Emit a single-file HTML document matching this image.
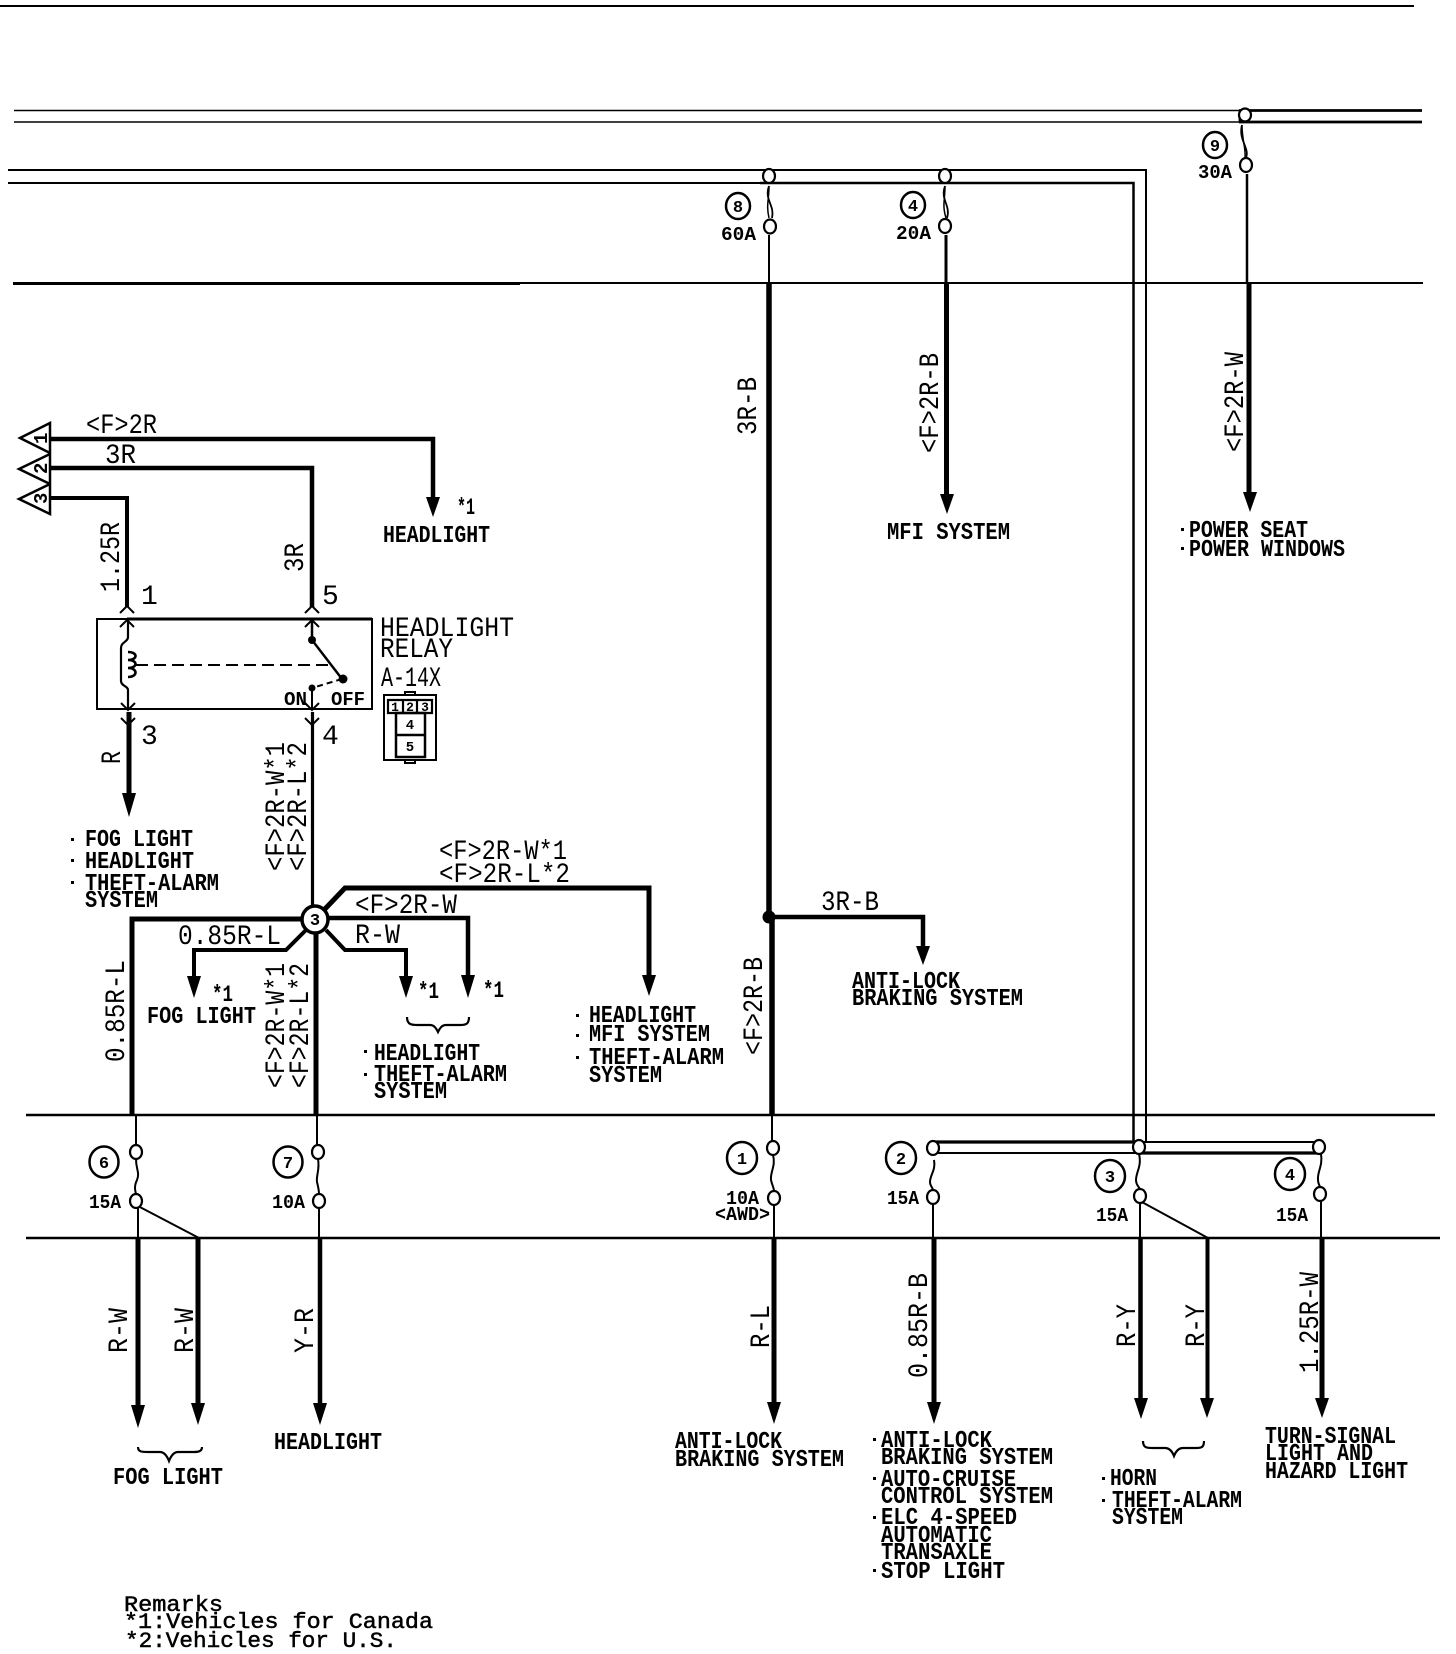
<!DOCTYPE html>
<html><head><meta charset="utf-8"><style>
html,body{margin:0;padding:0;background:#fff}
svg{display:block}
text{font-family:"Liberation Mono",monospace;fill:#000}
.s{font-size:24px;font-weight:bold}
.m{font-size:28px}
.f{font-size:19px;font-weight:bold}
.a{font-size:23px;font-weight:bold}
.r{font-size:22px;stroke:#000;stroke-width:.5px}
.n{font-size:17px;font-weight:bold;text-anchor:middle}
.l{fill:none;stroke:#000;stroke-linejoin:miter}
.o{fill:#fff;stroke:#000;stroke-width:2.2}
</style></head><body>
<svg width="1456" height="1654" viewBox="0 0 1456 1654" xmlns="http://www.w3.org/2000/svg">
<rect width="1456" height="1654" fill="#fff"/>
<!-- rules and bus bars -->
<g class="l">
<path d="M0 6H1414" stroke-width="2"/>
<path d="M14 110.500H1239M14 122H1239" stroke-width="1.500"/>
<path d="M1239 110.500H1422M1239 122H1422M1240 110V122" stroke-width="2.800"/>
<path d="M8 170H1146V1142" stroke-width="2"/>
<path d="M8 183H760" stroke-width="2"/>
<path d="M760 183H1133.500V1142" stroke-width="2.500"/>
<path d="M13 283H1423" stroke-width="2"/>
<path d="M13 283.500H520" stroke-width="3"/>
<path d="M26 1115H1435" stroke-width="2.500"/>
<path d="M26 1238H1440" stroke-width="2.500"/>
<path d="M933 1142H1137" stroke-width="3.200"/>
<path d="M1137 1142H1319" stroke-width="2"/>
<path d="M933 1153H1137" stroke-width="2"/>
<path d="M1137 1153H1319" stroke-width="3.200"/>
</g>
<!-- top fuses -->
<g class="l">
<path d="M769 186C764 200 775 205 772 218" stroke-width="1.800"/><path d="M769 186C769 200 766 205 769 218" stroke-width="1.500"/>
<path d="M769 235V283" stroke-width="2"/>
<path d="M769 283V918" stroke-width="5.500"/>
<path d="M772 918V1115" stroke-width="5.500"/>
<path d="M945 186C940 200 951 205 947 218" stroke-width="1.800"/><path d="M945 186C945 200 942 205 946 218" stroke-width="1.500"/>
<path d="M946 235V283" stroke-width="3"/>
<path d="M946.500 283V495" stroke-width="5"/>
<path d="M1242 125C1238 140 1250 148 1246 158" stroke-width="1.800"/><path d="M1242 125C1242 140 1246 148 1245 158" stroke-width="1.500"/>
<path d="M1247 174V283" stroke-width="2.500"/>
<path d="M1249 283V495" stroke-width="5"/>
</g>
<g class="o"><ellipse cx="769" cy="176" rx="6" ry="7"/><ellipse cx="770" cy="226.500" rx="6" ry="7"/><ellipse cx="945" cy="176" rx="6" ry="7"/><ellipse cx="945" cy="226" rx="6" ry="7"/><ellipse cx="1245" cy="115" rx="6" ry="6.500"/><ellipse cx="1246" cy="165" rx="6" ry="7"/></g>
<!-- arrowheads -->
<g fill="#000">
<path d="M426 497H440L433 517Z"/>
<path d="M122 793H136L129 817Z"/>
<path d="M187 976H201L194 998Z"/>
<path d="M399 976H413L406 998Z"/>
<path d="M461 975H475L468 998Z"/>
<path d="M642 975H656L649 996Z"/>
<path d="M940 494H954L947 514Z"/>
<path d="M1243 492H1257L1250 512Z"/>
<path d="M916 946H930L923 965Z"/>
<path d="M131 1405H145L138 1428Z"/>
<path d="M191 1403H205L198 1425Z"/>
<path d="M313 1403H327L320 1425Z"/>
<path d="M767 1402H781L774 1424Z"/>
<path d="M927 1402H941L934 1424Z"/>
<path d="M1134 1398H1148L1141 1419Z"/>
<path d="M1200 1398H1214L1207 1418Z"/>
<path d="M1315 1398H1329L1322 1418Z"/>
<circle cx="769" cy="917" r="6.500"/>
</g>
<!-- left triangles and wires -->
<g class="l">
<path d="M50 423L20 438L50 453ZM50 454L19 469L50 484ZM50 484L19 499L50 514Z" stroke-width="2.500"/>
<path d="M50 439H433V498" stroke-width="4.500"/>
<path d="M50 468H312V607" stroke-width="4.500"/>
<path d="M50 498H127V607" stroke-width="4"/>
<path d="M97 619H372V709H97Z" stroke-width="2"/>
<path d="M127 619H372" stroke-width="3"/>
<path d="M120 613L127 606L134 613M120 627L127 620L134 627M305 613L312 606L319 613M305 627L312 620L319 627" stroke-width="2"/>
<path d="M121 703L128 710L135 703M121 718L128 725L135 718M305 703L312 710L319 703M305 718L312 725L319 718" stroke-width="2"/>
<path d="M128 620V637C128 642 121 642 121 648V681C121 686 128 686 128 690V709" stroke-width="2.200"/>
<path d="M128 652C138 652 138 660 128 660C138 660 138 668 128 668C138 668 138 677 128 677" stroke-width="2.600"/>
<path d="M136 665H334" stroke-width="2" stroke-dasharray="12 6"/>
<path d="M312 620V640L342 679" stroke-width="2.500"/>
<path d="M342 679L312 688" stroke-width="2" stroke-dasharray="6 4"/>
<path d="M312 688V709" stroke-width="2"/>
<path d="M129 712V795" stroke-width="5"/>
<path d="M312.500 712V908" stroke-width="3.200"/>
<path d="M303 919H132V1115" stroke-width="5"/>
<path d="M324 910L345 888H649V978" stroke-width="5"/>
<path d="M328 918H468V977" stroke-width="4.500"/>
<path d="M326 930L345 950H406V977" stroke-width="4"/>
<path d="M308 928L286 950H194V978" stroke-width="4"/>
<path d="M316 932V1115" stroke-width="5"/>
<path d="M769 917H923V948" stroke-width="4.500"/>
</g>
<g fill="#000"><circle cx="312" cy="640" r="4"/><circle cx="343" cy="679" r="4.500"/><circle cx="312" cy="688" r="3.500"/></g>
<ellipse cx="315" cy="919.500" rx="13" ry="13.500" fill="#fff" stroke="#000" stroke-width="3.500"/>
<!-- lower fuses -->
<g class="l" stroke-width="2">
<path d="M136 1115V1145"/>
<path d="M136 1159C136 1170 140 1172 137 1180C134 1186 135 1190 136 1194"/>
<path d="M138 1208V1238M136 1205L199 1238"/>
<path d="M317 1115V1145"/>
<path d="M318 1159C320 1170 316 1175 317 1182C318 1186 319 1190 319 1194"/>
<path d="M319 1208V1238"/>
<path d="M772 1115V1141"/>
<path d="M773 1155C776 1166 770 1172 771 1180C772 1185 774 1188 774 1191"/>
<path d="M774 1205V1238"/>
<path d="M934 1160C936 1170 930 1175 930 1182C930 1186 933 1188 933 1190"/>
<path d="M933 1204V1238"/>
<path d="M1139 1154C1142 1166 1136 1172 1136 1180C1136 1185 1139 1187 1140 1189"/>
<path d="M1140 1203V1238M1140 1201L1208 1238"/>
<path d="M1321 1154C1323 1166 1317 1172 1318 1180C1318 1184 1320 1186 1320 1187"/>
<path d="M1321 1201V1238"/>
</g>
<g class="l">
<path d="M138 1238V1407M198 1238V1405" stroke-width="5"/>
<path d="M320 1238V1405" stroke-width="4.500"/>
<path d="M774 1238V1404M934 1238V1404" stroke-width="5"/>
<path d="M1140.500 1238V1400" stroke-width="4.500"/>
<path d="M1207.500 1238V1400" stroke-width="4"/>
<path d="M1322 1238V1400" stroke-width="5"/>
</g>
<g class="o"><ellipse cx="136" cy="1152" rx="6" ry="7"/><ellipse cx="136" cy="1201" rx="6" ry="7"/><ellipse cx="318" cy="1152" rx="6" ry="7"/><ellipse cx="319" cy="1201" rx="6" ry="7"/><ellipse cx="773" cy="1148" rx="6" ry="7"/><ellipse cx="774" cy="1198" rx="6" ry="7"/><ellipse cx="933" cy="1148" rx="6" ry="7"/><ellipse cx="933" cy="1197" rx="6" ry="7"/><ellipse cx="1139" cy="1147" rx="6" ry="7"/><ellipse cx="1140" cy="1196" rx="6" ry="7"/><ellipse cx="1319" cy="1147" rx="6" ry="7"/><ellipse cx="1320" cy="1194" rx="6" ry="7"/></g>
<!-- circled numbers -->
<g class="o" style="stroke-width:2.500;fill:none">
<ellipse cx="738" cy="206" rx="12" ry="13"/><ellipse cx="913" cy="205" rx="12" ry="13"/><ellipse cx="1215" cy="145" rx="12" ry="13"/>
<ellipse cx="104" cy="1162" rx="14.500" ry="15.500"/><ellipse cx="288" cy="1162" rx="14.500" ry="15.500"/>
<ellipse cx="742" cy="1158" rx="15" ry="16"/><ellipse cx="901" cy="1158" rx="15" ry="16"/><ellipse cx="1110" cy="1176" rx="15" ry="16"/><ellipse cx="1290" cy="1174" rx="15" ry="16"/>
</g>
<g>
<text class="n" x="738" y="212">8</text><text class="n" x="913" y="211">4</text><text class="n" x="1215" y="151">9</text>
<text class="n" x="104" y="1168">6</text><text class="n" x="288" y="1168">7</text>
<text class="n" x="742" y="1164">1</text><text class="n" x="901" y="1164">2</text><text class="n" x="1110" y="1182">3</text><text class="n" x="1290" y="1180">4</text>
<text class="n" x="315" y="925">3</text>
</g>
<!-- connector icon -->
<g class="l" stroke-width="2">
<path d="M384 695H436V760H384Z"/>
<path d="M388 700H432V713H388ZM403 700V713M417 700V713" stroke-width="2.200"/>
<path d="M396 713H425V757H396ZM396 735H425" stroke-width="2.500"/>
<path d="M405 695V692H415V695M405 760V763H415V760"/>
</g>
<text class="n" style="font-size:13px" x="395" y="711">1</text><text class="n" style="font-size:13px" x="410" y="711">2</text><text class="n" style="font-size:13px" x="425" y="711">3</text>
<text class="n" style="font-size:14px" x="410" y="729">4</text><text class="n" style="font-size:14px" x="410" y="751">5</text>
<!-- braces -->
<g class="l" stroke-width="2.200">
<path d="M407 1017C407 1025 412 1025 418 1025H430C434 1025 436 1028 438 1032C440 1028 442 1025 446 1025H460C466 1025 469 1024 469 1017"/>
<path d="M138 1447C138 1452 142 1452 148 1452H160C164 1452 167 1456 169 1461C171 1456 174 1452 178 1452H194C199 1452 202 1451 202 1447"/>
<path d="M1143 1441C1143 1448 1147 1448 1153 1448H1165C1169 1448 1172 1451 1174 1456C1176 1451 1179 1448 1183 1448H1196C1202 1448 1204 1447 1204 1441"/>
</g>
<!-- large wire labels -->
<text class="m" x="86" y="433" textLength="71" lengthAdjust="spacingAndGlyphs">&lt;F&gt;2R</text>
<text class="m" x="105" y="463" textLength="31" lengthAdjust="spacingAndGlyphs">3R</text>
<text class="m" x="141" y="604">1</text><text class="m" x="322" y="604">5</text><text class="m" x="141" y="744">3</text><text class="m" x="322" y="744">4</text>
<text class="m" x="380" y="636" textLength="134" lengthAdjust="spacingAndGlyphs">HEADLIGHT</text>
<text class="m" x="380" y="657" textLength="73" lengthAdjust="spacingAndGlyphs">RELAY</text>
<text class="m" x="381" y="686" textLength="60" lengthAdjust="spacingAndGlyphs">A-14X</text>
<text class="m" x="439" y="859" textLength="128" lengthAdjust="spacingAndGlyphs">&lt;F&gt;2R-W*1</text>
<text class="m" x="439" y="882" textLength="131" lengthAdjust="spacingAndGlyphs">&lt;F&gt;2R-L*2</text>
<text class="m" x="355" y="913" textLength="102" lengthAdjust="spacingAndGlyphs">&lt;F&gt;2R-W</text>
<text class="m" x="355" y="943" textLength="45" lengthAdjust="spacingAndGlyphs">R-W</text>
<text class="m" x="178" y="944" textLength="103" lengthAdjust="spacingAndGlyphs">0.85R-L</text>
<text class="m" x="821" y="910" textLength="58" lengthAdjust="spacingAndGlyphs">3R-B</text>
<g class="m">
<text class="m" transform="translate(119,592) rotate(-90)" textLength="70" lengthAdjust="spacingAndGlyphs">1.25R</text>
<text class="m" transform="translate(303,572) rotate(-90)" textLength="29" lengthAdjust="spacingAndGlyphs">3R</text>
<text class="m" transform="translate(120,764) rotate(-90)" textLength="13" lengthAdjust="spacingAndGlyphs">R</text>
<text class="m" transform="translate(284,871) rotate(-90)" textLength="129" lengthAdjust="spacingAndGlyphs">&lt;F&gt;2R-W*1</text>
<text class="m" transform="translate(306,871) rotate(-90)" textLength="129" lengthAdjust="spacingAndGlyphs">&lt;F&gt;2R-L*2</text>
<text class="m" transform="translate(284,1088) rotate(-90)" textLength="125" lengthAdjust="spacingAndGlyphs">&lt;F&gt;2R-W*1</text>
<text class="m" transform="translate(308,1088) rotate(-90)" textLength="125" lengthAdjust="spacingAndGlyphs">&lt;F&gt;2R-L*2</text>
<text class="m" transform="translate(124,1062) rotate(-90)" textLength="102" lengthAdjust="spacingAndGlyphs">0.85R-L</text>
<text class="m" transform="translate(756,435) rotate(-90)" textLength="58" lengthAdjust="spacingAndGlyphs">3R-B</text>
<text class="m" transform="translate(938,453) rotate(-90)" textLength="100" lengthAdjust="spacingAndGlyphs">&lt;F&gt;2R-B</text>
<text class="m" transform="translate(1243,452) rotate(-90)" textLength="100" lengthAdjust="spacingAndGlyphs">&lt;F&gt;2R-W</text>
<text class="m" transform="translate(762,1055) rotate(-90)" textLength="98" lengthAdjust="spacingAndGlyphs">&lt;F&gt;2R-B</text>
<text class="m" transform="translate(127,1353) rotate(-90)" textLength="45" lengthAdjust="spacingAndGlyphs">R-W</text>
<text class="m" transform="translate(193,1353) rotate(-90)" textLength="45" lengthAdjust="spacingAndGlyphs">R-W</text>
<text class="m" transform="translate(313,1353) rotate(-90)" textLength="45" lengthAdjust="spacingAndGlyphs">Y-R</text>
<text class="m" transform="translate(769,1348) rotate(-90)" textLength="43" lengthAdjust="spacingAndGlyphs">R-L</text>
<text class="m" transform="translate(927,1378) rotate(-90)" textLength="105" lengthAdjust="spacingAndGlyphs">0.85R-B</text>
<text class="m" transform="translate(1135,1347) rotate(-90)" textLength="43" lengthAdjust="spacingAndGlyphs">R-Y</text>
<text class="m" transform="translate(1204,1347) rotate(-90)" textLength="43" lengthAdjust="spacingAndGlyphs">R-Y</text>
<text class="m" transform="translate(1318,1373) rotate(-90)" textLength="101" lengthAdjust="spacingAndGlyphs">1.25R-W</text>
</g>
<!-- triangle numbers -->
<text class="f" transform="translate(47,444) rotate(-90)">1</text>
<text class="f" transform="translate(47,474) rotate(-90)">2</text>
<text class="f" transform="translate(47,504) rotate(-90)">3</text>
<!-- amps -->
<g>
<text class="f" x="721" y="240" textLength="35" lengthAdjust="spacingAndGlyphs">60A</text>
<text class="f" x="896" y="239" textLength="35" lengthAdjust="spacingAndGlyphs">20A</text>
<text class="f" x="1198" y="178" textLength="34" lengthAdjust="spacingAndGlyphs">30A</text>
<text class="f" x="89" y="1208" textLength="32" lengthAdjust="spacingAndGlyphs">15A</text>
<text class="f" x="272" y="1208" textLength="33" lengthAdjust="spacingAndGlyphs">10A</text>
<text class="f" x="726" y="1204" textLength="33" lengthAdjust="spacingAndGlyphs">10A</text>
<text class="f" x="715" y="1220" textLength="55" lengthAdjust="spacingAndGlyphs">&lt;AWD&gt;</text>
<text class="f" x="887" y="1204" textLength="32" lengthAdjust="spacingAndGlyphs">15A</text>
<text class="f" x="1096" y="1221" textLength="32" lengthAdjust="spacingAndGlyphs">15A</text>
<text class="f" x="1276" y="1221" textLength="32" lengthAdjust="spacingAndGlyphs">15A</text>
</g>
<!-- small labels -->
<text class="f" x="284" y="705" textLength="23" lengthAdjust="spacingAndGlyphs">ON</text>
<text class="f" x="331" y="705" textLength="34" lengthAdjust="spacingAndGlyphs">OFF</text>
<text class="a" x="457" y="514" textLength="18" lengthAdjust="spacingAndGlyphs">*1</text>
<text class="a" x="212" y="1001" textLength="21" lengthAdjust="spacingAndGlyphs">*1</text>
<text class="a" x="418" y="998" textLength="21" lengthAdjust="spacingAndGlyphs">*1</text>
<text class="a" x="483" y="997" textLength="21" lengthAdjust="spacingAndGlyphs">*1</text>
<!-- list labels -->
<g>
<text class="s" x="383" y="542" textLength="107" lengthAdjust="spacingAndGlyphs">HEADLIGHT</text>
<text class="s" x="887" y="539" textLength="123" lengthAdjust="spacingAndGlyphs">MFI SYSTEM</text>
<text class="s" x="1189" y="537" textLength="119" lengthAdjust="spacingAndGlyphs">POWER SEAT</text>
<text class="s" x="1189" y="556" textLength="156" lengthAdjust="spacingAndGlyphs">POWER WINDOWS</text>
<text class="s" x="85" y="846" textLength="108" lengthAdjust="spacingAndGlyphs">FOG LIGHT</text>
<text class="s" x="85" y="868" textLength="109" lengthAdjust="spacingAndGlyphs">HEADLIGHT</text>
<text class="s" x="85" y="890" textLength="134" lengthAdjust="spacingAndGlyphs">THEFT-ALARM</text>
<text class="s" x="85" y="907" textLength="73" lengthAdjust="spacingAndGlyphs">SYSTEM</text>
<text class="s" x="147" y="1023" textLength="109" lengthAdjust="spacingAndGlyphs">FOG LIGHT</text>
<text class="s" x="374" y="1060" textLength="106" lengthAdjust="spacingAndGlyphs">HEADLIGHT</text>
<text class="s" x="374" y="1081" textLength="133" lengthAdjust="spacingAndGlyphs">THEFT-ALARM</text>
<text class="s" x="374" y="1098" textLength="73" lengthAdjust="spacingAndGlyphs">SYSTEM</text>
<text class="s" x="589" y="1022" textLength="107" lengthAdjust="spacingAndGlyphs">HEADLIGHT</text>
<text class="s" x="589" y="1041" textLength="121" lengthAdjust="spacingAndGlyphs">MFI SYSTEM</text>
<text class="s" x="589" y="1064" textLength="135" lengthAdjust="spacingAndGlyphs">THEFT-ALARM</text>
<text class="s" x="589" y="1082" textLength="73" lengthAdjust="spacingAndGlyphs">SYSTEM</text>
<text class="s" x="852" y="988" textLength="108" lengthAdjust="spacingAndGlyphs">ANTI-LOCK</text>
<text class="s" x="852" y="1005" textLength="171" lengthAdjust="spacingAndGlyphs">BRAKING SYSTEM</text>
<text class="s" x="113" y="1484" textLength="110" lengthAdjust="spacingAndGlyphs">FOG LIGHT</text>
<text class="s" x="274" y="1449" textLength="108" lengthAdjust="spacingAndGlyphs">HEADLIGHT</text>
<text class="s" x="675" y="1448" textLength="107" lengthAdjust="spacingAndGlyphs">ANTI-LOCK</text>
<text class="s" x="675" y="1466" textLength="169" lengthAdjust="spacingAndGlyphs">BRAKING SYSTEM</text>
<text class="s" x="881" y="1447" textLength="111" lengthAdjust="spacingAndGlyphs">ANTI-LOCK</text>
<text class="s" x="881" y="1464" textLength="172" lengthAdjust="spacingAndGlyphs">BRAKING SYSTEM</text>
<text class="s" x="881" y="1486" textLength="135" lengthAdjust="spacingAndGlyphs">AUTO-CRUISE</text>
<text class="s" x="881" y="1503" textLength="172" lengthAdjust="spacingAndGlyphs">CONTROL SYSTEM</text>
<text class="s" x="881" y="1524" textLength="136" lengthAdjust="spacingAndGlyphs">ELC 4-SPEED</text>
<text class="s" x="881" y="1542" textLength="111" lengthAdjust="spacingAndGlyphs">AUTOMATIC</text>
<text class="s" x="881" y="1559" textLength="111" lengthAdjust="spacingAndGlyphs">TRANSAXLE</text>
<text class="s" x="881" y="1578" textLength="124" lengthAdjust="spacingAndGlyphs">STOP LIGHT</text>
<text class="s" x="1110" y="1485" textLength="47" lengthAdjust="spacingAndGlyphs">HORN</text>
<text class="s" x="1112" y="1507" textLength="130" lengthAdjust="spacingAndGlyphs">THEFT-ALARM</text>
<text class="s" x="1112" y="1524" textLength="71" lengthAdjust="spacingAndGlyphs">SYSTEM</text>
<text class="s" x="1265" y="1443" textLength="131" lengthAdjust="spacingAndGlyphs">TURN-SIGNAL</text>
<text class="s" x="1265" y="1460" textLength="108" lengthAdjust="spacingAndGlyphs">LIGHT AND</text>
<text class="s" x="1265" y="1478" textLength="143" lengthAdjust="spacingAndGlyphs">HAZARD LIGHT</text>
</g>
<!-- bullet dots -->
<g fill="#000">
<rect x="71" y="838" width="3" height="3"/><rect x="71" y="859" width="3" height="3"/><rect x="71" y="881" width="3" height="3"/>
<rect x="364" y="1050" width="3" height="3"/><rect x="364" y="1073" width="3" height="3"/>
<rect x="576" y="1014" width="3" height="3"/><rect x="576" y="1034" width="3" height="3"/><rect x="576" y="1056" width="3" height="3"/>
<rect x="1181" y="528" width="3" height="3"/><rect x="1181" y="547" width="3" height="3"/>
<rect x="873" y="1438" width="3" height="3"/><rect x="873" y="1477" width="3" height="3"/><rect x="873" y="1516" width="3" height="3"/><rect x="873" y="1569" width="3" height="3"/>
<rect x="1102" y="1477" width="3" height="3"/><rect x="1102" y="1499" width="3" height="3"/>
</g>
<!-- remarks -->
<text class="r" x="124" y="1611" textLength="99" lengthAdjust="spacingAndGlyphs">Remarks</text>
<text class="r" x="124" y="1628" textLength="309" lengthAdjust="spacingAndGlyphs">*1:Vehicles for Canada</text>
<text class="r" x="125" y="1647" textLength="272" lengthAdjust="spacingAndGlyphs">*2:Vehicles for U.S.</text>
</svg>
</body></html>
